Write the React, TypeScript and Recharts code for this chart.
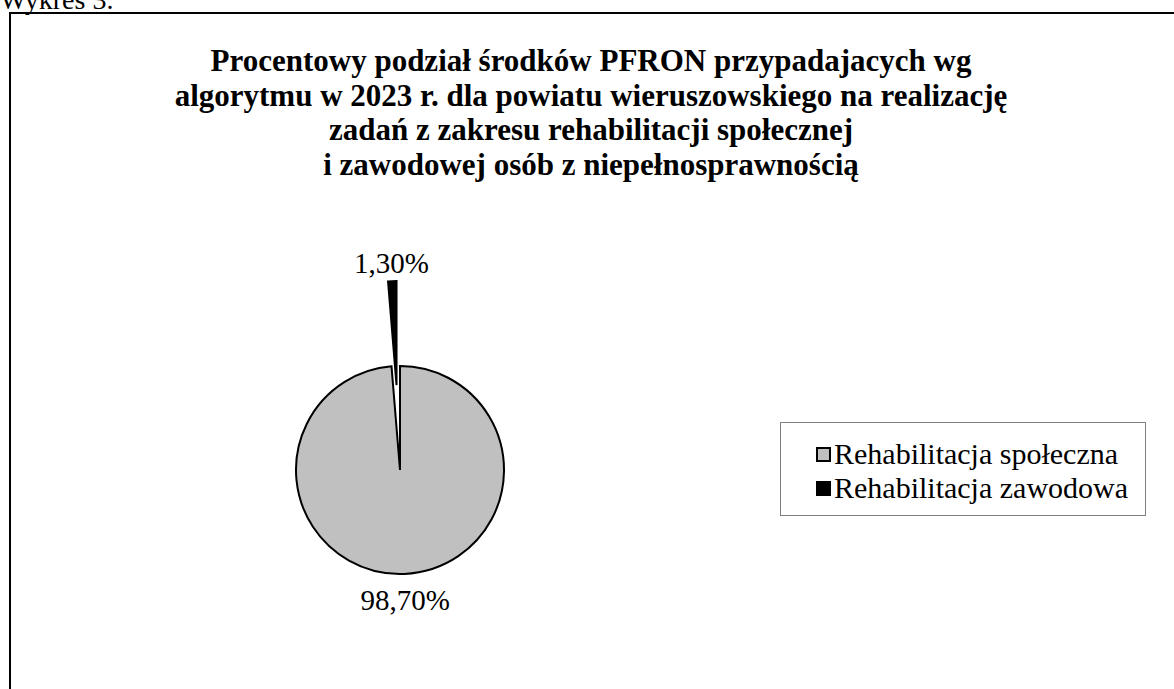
import React from 'react';
import { PieChart, Pie, Cell, Legend } from 'recharts';

const categories = ['Rehabilitacja społeczna', 'Rehabilitacja zawodowa'];
const shares = [98.7, 1.3];
const colors = ['#c0c0c0', '#000000'];
const titleLines = [
    'Procentowy podział środków PFRON przypadajacych wg',
    'algorytmu w 2023 r. dla powiatu wieruszowskiego na realizację',
    'zadań z zakresu rehabilitacji społecznej',
    'i zawodowej osób z niepełnosprawnością'
];

const data = categories.map((name, i) => ({ name, value: shares[i] }));

const FONT = '"Liberation Serif", "DejaVu Serif", serif';
const CX = 400;
const CY = 470;
const R = 104;
const EXPLODE = 85;

// offset of the exploded slice, taken from its mid angle
const total = shares.reduce((a, b) => a + b, 0);
const explodedMid = 90 - 360 * (total - shares[1] / 2) / total;
const RAD = Math.PI / 180;
const exDx = EXPLODE * Math.cos(explodedMid * RAD);
const exDy = -EXPLODE * Math.sin(explodedMid * RAD);

const fmt = (v: number) => v.toFixed(2).replace('.', ',') + '%';

const makeLabel = (showIndex: number, gap: number) => (props: any) => {
    const { cx, cy, midAngle, outerRadius, index, value } = props;
    if (index !== showIndex) return null;
    const r = outerRadius + gap;
    const x = cx + r * Math.cos(-midAngle * RAD);
    const y = cy + r * Math.sin(-midAngle * RAD);
    return (
        <text x={x} y={y} textAnchor="middle" dominantBaseline="central"
            fontFamily={FONT} fontSize={29} fill="#000">
            {fmt(value)}
        </text>
    );
};

const LegendBox = () => (
    <div style={{
        border: '1px solid #7f7f7f',
        background: '#fff',
        width: 366,
        height: 94,
        boxSizing: 'border-box',
        padding: '14px 0 0 35px',
        fontFamily: FONT,
        fontSize: 30
    }}>
        {categories.map((name, i) => (
            <div key={name} style={{ display: 'flex', alignItems: 'center', height: 34, whiteSpace: 'nowrap' }}>
                <span style={{
                    display: 'inline-block',
                    width: 15,
                    height: 15,
                    background: colors[i],
                    border: '2px solid #000',
                    boxSizing: 'border-box',
                    marginRight: 3
                }} />
                <span>{name}</span>
            </div>
        ))}
    </div>
);

export default function App() {
    return (
        <div style={{ position: 'absolute', left: 0, top: 0, width: 1174, height: 689, overflow: 'hidden', background: '#fff' }}>
            <div style={{ position: 'absolute', left: 0, top: -14, fontFamily: FONT, fontSize: 28, lineHeight: '28px' }}>
                Wykres 3.
            </div>
            <div style={{
                position: 'absolute', left: 9, top: 12, width: 1200, height: 700,
                border: '2px solid #000', boxSizing: 'border-box'
            }} />
            <div style={{
                position: 'absolute', left: 11, top: 44, width: 1160,
                textAlign: 'center', fontFamily: FONT, fontWeight: 'bold',
                fontSize: 31, lineHeight: '34.5px'
            }}>
                {titleLines.map((l) => <div key={l}>{l}</div>)}
            </div>
            <div style={{ position: 'absolute', left: 0, top: 0 }}>
                <PieChart width={1174} height={689} margin={{ top: 0, right: 0, bottom: 0, left: 0 }}>
                    <Pie
                        data={data}
                        dataKey="value"
                        nameKey="name"
                        cx={CX}
                        cy={CY}
                        outerRadius={R}
                        startAngle={90}
                        endAngle={-270}
                        isAnimationActive={false}
                        label={makeLabel(0, 26)}
                        labelLine={false}
                    >
                        {data.map((d, i) => (
                            <Cell key={d.name} fill={i === 0 ? colors[0] : 'none'}
                                stroke={i === 0 ? '#000' : 'none'} strokeWidth={2} />
                        ))}
                    </Pie>
                    <Pie
                        data={data}
                        dataKey="value"
                        nameKey="name"
                        cx={CX + exDx}
                        cy={CY + exDy}
                        outerRadius={R}
                        startAngle={90}
                        endAngle={-270}
                        isAnimationActive={false}
                        label={makeLabel(1, 18)}
                        labelLine={false}
                        legendType="none"
                    >
                        {data.map((d, i) => (
                            <Cell key={d.name} fill={i === 1 ? colors[1] : 'none'}
                                stroke={i === 1 ? '#000' : 'none'} strokeWidth={2} />
                        ))}
                    </Pie>
                    <Legend
                        content={<LegendBox />}
                        wrapperStyle={{ left: 780, top: 422, width: 366, height: 94 }}
                    />
                </PieChart>
            </div>
        </div>
    );
}
